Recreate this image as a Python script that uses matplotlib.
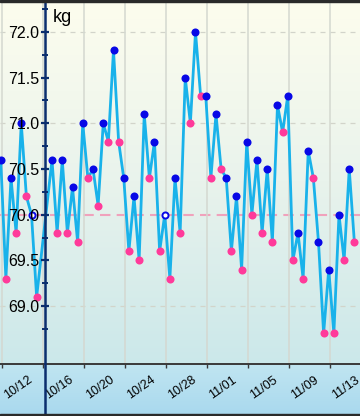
import numpy as np
import pandas as pd
import matplotlib
matplotlib.use("Agg")
import matplotlib.pyplot as plt
from matplotlib.lines import Line2D
from matplotlib.patches import Rectangle
from matplotlib.ticker import FixedLocator

plt.rcParams['font.family'] = ['Liberation Sans', 'DejaVu Sans']

# one morning (blue) and one evening (pink) reading per day, 10/16 missing
dates = ['10/12', '10/13', '10/14', '10/15',
         '10/17', '10/18', '10/19', '10/20', '10/21', '10/22', '10/23', '10/24',
         '10/25', '10/26', '10/27', '10/28', '10/29', '10/30', '10/31',
         '11/01', '11/02', '11/03', '11/04', '11/05', '11/06', '11/07', '11/08',
         '11/09', '11/10', '11/11', '11/12', '11/13', '11/14', '11/15']
morning = [70.6, 70.4, 71.0, 70.0, 70.6, 70.6, 70.3, 71.0, 70.5, 71.0, 71.8, 70.4,
           70.2, 71.1, 70.8, 70.0, 70.4, 71.5, 72.0, 71.3, 71.1, 70.4, 70.2, 70.8,
           70.6, 70.5, 71.2, 71.3, 69.8, 70.7, 69.7, 69.4, 70.0, 70.5]
evening = [69.3, 69.8, 70.2, 69.1, 69.8, 69.8, 69.7, 70.4, 70.1, 70.8, 70.8, 69.6,
           69.5, 70.4, 69.6, 69.3, 69.8, 71.0, 71.3, 70.4, 70.5, 69.6, 69.4, 70.0,
           69.8, 69.7, 70.9, 69.5, 69.3, 70.4, 68.7, 68.7, 69.5, 69.7]
hollow = ['10/15', '10/28']          # drawn as open markers
target = 70.0
tick_labels = ['10/12', '10/16', '10/20', '10/24', '10/28', '11/01', '11/05', '11/09', '11/13']


def day_no(lbls):
    t = pd.to_datetime(['2014/' + s for s in lbls], format='%Y/%m/%d')
    return np.array((t - pd.Timestamp('2014-10-12')).days, dtype=float)


d = day_no(dates)
xm = d - 0.15
xe = d + 0.35
x = np.column_stack([xm, xe]).ravel()
y = np.column_stack([morning, evening]).ravel()
xt = day_no(tick_labels)

fig = plt.figure(figsize=(3.6, 4.16), dpi=100)

# background gradient
bg = fig.add_axes([0, 0, 1, 1], zorder=-10)
rows = np.arange(416)
top = np.array([253, 253, 238]); mid = np.array([233, 243, 236]); low = np.array([203, 232, 234])
lab_top = np.array([192, 229, 241]); lab_bot = np.array([168, 216, 238])
img = np.zeros((416, 1, 3))
for r in rows:
    if r < 180:
        c = top + (mid - top) * r / 180
    elif r < 364:
        c = mid + (low - mid) * (r - 180) / 184
    else:
        c = lab_top + (lab_bot - lab_top) * (r - 364) / 52
    img[r, 0] = c / 255
bg.imshow(img, aspect='auto', extent=[0, 1, 0, 1])
bg.axis('off')

ax = fig.add_axes([0, 52 / 416, 1, 361 / 416])
ax.set_facecolor('none')
ax.set_xlim(-0.224, 34.9)
ax.set_ylim(68.366, 72.316)

# grid
for g in [69.0, 71.0, 72.0]:
    ax.axhline(g, color='#d2d4ca', lw=0.9, dashes=(4, 4), zorder=1)
ax.axhline(target, color='#f0a2bc', lw=1.5, dashes=(5, 3), zorder=1)
for t in xt:
    ax.axvline(t, color='#d4d8d0', lw=1.1, zorder=1)

ax.plot(x, y, color='#19b2ea', lw=2.0, zorder=2, solid_joinstyle='miter')
ax.plot(xe, evening, 'o', color='#ff3a9a', ms=5.8, mec='none', zorder=2.1)
solid = [i for i, s in enumerate(dates) if s not in hollow]
opn = [i for i, s in enumerate(dates) if s in hollow]
ax.plot(xm[solid], np.array(morning)[solid], 'o', color='#0808e6', ms=5.8, mec='none', zorder=2.1)
ax.plot(xm[opn], np.array(morning)[opn], 'o', mfc='white', mec='#0808e6', ms=4.4, mew=1.4, zorder=2.1)

ax.set_axisbelow(False)
for s in ['top', 'right', 'left']:
    ax.spines[s].set_visible(False)
ax.spines['bottom'].set_color('#3a3a3a')
ax.spines['bottom'].set_linewidth(1.4)
ax.spines['left'].set_position(('axes', 45 / 360))

ax.yaxis.set_major_locator(FixedLocator([69.0, 69.5, 70.0, 70.5, 71.0, 71.5, 72.0]))
ax.yaxis.set_minor_locator(FixedLocator([68.75, 69.25, 69.75, 70.25, 70.75, 71.25, 71.75, 72.25]))
ax.set_yticklabels(['%.1f' % v for v in [69.0, 69.5, 70.0, 70.5, 71.0, 71.5, 72.0]], fontsize=11.5)
ax.tick_params(axis='y', which='major', direction='inout', length=6.2, width=1.6,
               color='#0b2e6e', pad=1)
ax.tick_params(axis='y', which='minor', direction='inout', length=4.6, width=1.4,
               color='#0b2e6e')

ax.set_xticks(xt)
ax.set_xticklabels(tick_labels, rotation=35, ha='left', va='top', fontsize=9)
ax.tick_params(axis='x', direction='out', length=3, width=1, color='#3a3a3a', pad=4)

# full-height y axis line
fig.add_artist(Line2D([45 / 360, 45 / 360], [0, 1], transform=fig.transFigure,
                      color='#0b2e6e', lw=1.8, zorder=5))
fig.text(53 / 360, 1 - 17 / 416, 'kg', fontsize=13, va='center', ha='left')

fig.add_artist(Rectangle((0, 1 - 2 / 416), 1, 2 / 416, transform=fig.transFigure,
                         color='#2a2a2a', zorder=6))
fig.add_artist(Rectangle((0, 0), 1, 2.5 / 416, transform=fig.transFigure,
                         color='#2a2a2a', zorder=6))

fig.savefig('out.png', dpi=100)
